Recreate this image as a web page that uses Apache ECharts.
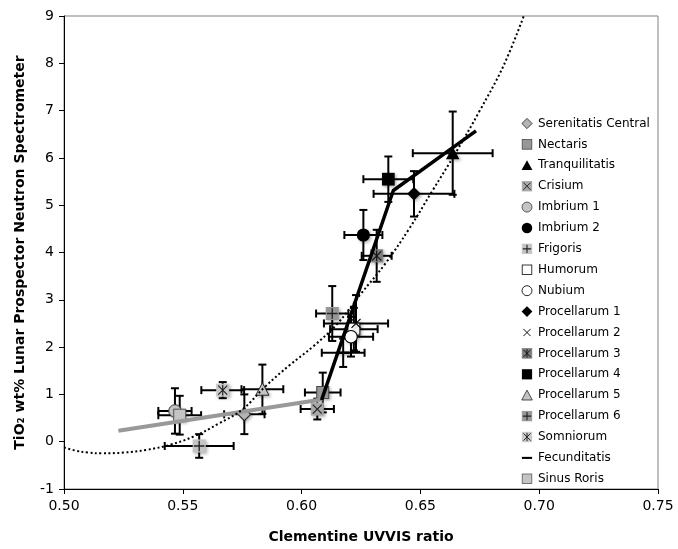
<!DOCTYPE html>
<html>
<head>
<meta charset="utf-8">
<script src="https://cdn.jsdelivr.net/npm/echarts@6/dist/echarts.min.js"></script>
<style>
  html, body { margin: 0; padding: 0; background: #fff; }
  #chart { width: 678px; height: 549px; }
</style>
</head>
<body>
<div id="chart"></div>
<script>
// Mare regions: Clementine UVVIS ratio vs. Lunar Prospector TiO2 (wt%)
const regions = [
  'Serenitatis Central', 'Nectaris', 'Tranquilitatis', 'Crisium', 'Imbrium 1',
  'Imbrium 2', 'Frigoris', 'Humorum', 'Nubium', 'Procellarum 1', 'Procellarum 2',
  'Procellarum 3', 'Procellarum 4', 'Procellarum 5', 'Procellarum 6', 'Somniorum',
  'Fecunditatis', 'Sinus Roris'
];
const uvvisRatio = [0.5759, 0.6089, 0.6636, 0.6066, 0.5467, 0.6260, 0.5569, 0.6220, 0.6208,
  0.6473, 0.6229, 0.6316, 0.6365, 0.5835, 0.6129, 0.5668, 0.6175, 0.5487];
const tio2 = [0.58, 1.04, 6.10, 0.69, 0.65, 4.37, -0.09, 2.38, 2.22,
  5.24, 2.50, 3.93, 5.55, 1.11, 2.71, 1.09, 1.88, 0.56];
const uvvisErr = [0.0085, 0.0075, 0.0168, 0.0070, 0.0070, 0.0080, 0.0145, 0.0100, 0.0093,
  0.0170, 0.0135, 0.0063, 0.0105, 0.0088, 0.0068, 0.0090, 0.0090, 0.0090];
const tio2Err = [0.42, 0.42, 0.88, 0.22, 0.48, 0.53, 0.25, 0.45, 0.42,
  0.48, 0.60, 0.55, 0.48, 0.52, 0.58, 0.17, 0.30, 0.41];

// Linear fit through the low-Ti maria
const lowTiFitX = [0.5229, 0.6091];
const lowTiFitY = [0.233, 0.896];
// Segmented fit through the high-Ti maria
const highTiFitX = [0.6084, 0.6386, 0.6734];
const highTiFitY = [0.88, 5.31, 6.57];
// Polynomial trend (dotted)
const trendX = [0.500, 0.505, 0.510, 0.516, 0.525, 0.535, 0.545, 0.555, 0.565, 0.575, 0.585,
  0.595, 0.605, 0.615, 0.625, 0.635, 0.645, 0.655, 0.665, 0.675, 0.685, 0.6935];
const trendY = [-0.12, -0.19, -0.23, -0.245, -0.23, -0.17, -0.06, 0.12, 0.38, 0.68, 1.18,
  1.62, 2.02, 2.49, 3.13, 3.75, 4.48, 5.30, 6.12, 7.00, 7.95, 9.0];

const xTicks = ['0.50', '0.55', '0.60', '0.65', '0.70', '0.75'];

// Marker drawings (20x20 SVG)
const LIGHT = '#c4c4c4', MID = '#979797', DARK = '#7d7d7d';
function svgIcon(body) {
  const s = '<svg xmlns="http://www.w3.org/2000/svg" width="40" height="40" viewBox="0 0 20 20">' + body + '</svg>';
  return 'image://data:image/svg+xml;charset=utf-8,' + encodeURIComponent(s);
}
const sq = (fill, stroke) => `<rect x="2" y="2" width="16" height="16" fill="${fill}" stroke="${stroke}" stroke-width="1.3"/>`;
const xMark = (c) => `<path d="M4 4L16 16M16 4L4 16" stroke="${c}" stroke-width="1.6"/>`;
const plusMark = (c) => `<path d="M10 3V17M3 10H17" stroke="${c}" stroke-width="1.8"/>`;
const vMark = (c) => `<path d="M10 3V17" stroke="${c}" stroke-width="1.6"/>`;

const markerSvg = [
  svgIcon(`<polygon points="10,1.5 18.5,10 10,18.5 1.5,10" fill="#b4b4b4" stroke="#222" stroke-width="1.4"/>`),
  svgIcon(sq(MID, '#444')),
  svgIcon(`<polygon points="10,1.5 19,18 1,18" fill="#000"/>`),
  svgIcon(sq('#a8a8a8', '#a8a8a8') + xMark('#222')),
  svgIcon(`<circle cx="10" cy="10" r="8.3" fill="${LIGHT}" stroke="#333" stroke-width="1.3"/>`),
  svgIcon(`<circle cx="10" cy="10" r="8.8" fill="#000"/>`),
  svgIcon(sq(LIGHT, LIGHT) + plusMark('#222')),
  svgIcon(sq('#fff', '#000')),
  svgIcon(`<circle cx="10" cy="10" r="8.3" fill="#fff" stroke="#000" stroke-width="1.4"/>`),
  svgIcon(`<polygon points="10,1 19,10 10,19 1,10" fill="#000"/>`),
  svgIcon(xMark('#000')),
  svgIcon(sq(DARK, DARK) + xMark('#111') + vMark('#111')),
  svgIcon(`<rect x="1.5" y="1.5" width="17" height="17" fill="#000"/>`),
  svgIcon(`<polygon points="10,1.5 18.8,18 1.2,18" fill="${LIGHT}" stroke="#222" stroke-width="1.3"/>`),
  svgIcon(sq(MID, MID) + plusMark('#222')),
  svgIcon(sq('#c8c8c8', '#c8c8c8') + xMark('#222') + vMark('#222')),
  svgIcon(`<rect x="1.5" y="8.3" width="17" height="3.4" fill="#000"/>`),
  svgIcon(sq(LIGHT, '#555'))
];

const FONT = 'DejaVu Sans, Verdana, sans-serif';

const chart = echarts.init(document.getElementById('chart'), null, { renderer: 'canvas' });

const errorBarData = regions.map((_, i) => [uvvisRatio[i], tio2[i], uvvisErr[i], tio2Err[i]]);

function renderErrorBar(params, api) {
  const x = api.value(0), y = api.value(1), ex = api.value(2), ey = api.value(3);
  const l = api.coord([x - ex, y]), r = api.coord([x + ex, y]);
  const t = api.coord([x, y + ey]), b = api.coord([x, y - ey]);
  const cap = 4;
  const style = { stroke: '#000', lineWidth: 2, fill: null };
  const seg = (x1, y1, x2, y2) => ({ type: 'line', shape: { x1, y1, x2, y2 }, style });
  return {
    type: 'group',
    children: [
      seg(l[0], l[1], r[0], r[1]),
      seg(t[0], t[1], b[0], b[1]),
      seg(l[0], l[1] - cap, l[0], l[1] + cap),
      seg(r[0], r[1] - cap, r[0], r[1] + cap),
      seg(t[0] - cap, t[1], t[0] + cap, t[1]),
      seg(b[0] - cap, b[1], b[0] + cap, b[1])
    ]
  };
}

const series = [
  {
    name: 'error bars',
    type: 'custom',
    renderItem: renderErrorBar,
    data: errorBarData,
    encode: { x: 0, y: 1 },
    z: 2,
    silent: true
  }
];

regions.forEach((name, i) => {
  series.push({
    name,
    type: 'scatter',
    data: [[uvvisRatio[i], tio2[i]]],
    symbol: markerSvg[i],
    symbolSize: 15,
    z: 3,
    itemStyle: {
      opacity: 1,
      shadowBlur: 3, shadowOffsetX: 1.5, shadowOffsetY: 1.5, shadowColor: 'rgba(0,0,0,0.3)'
    }
  });
});

series.push({
  name: 'low-Ti fit',
  type: 'line',
  data: lowTiFitX.map((x, i) => [x, lowTiFitY[i]]),
  showSymbol: false,
  lineStyle: { color: '#999', width: 4, cap: 'butt' },
  z: 4,
  silent: true
});
series.push({
  name: 'high-Ti fit',
  type: 'line',
  data: highTiFitX.map((x, i) => [x, highTiFitY[i]]),
  showSymbol: false,
  lineStyle: { color: '#000', width: 3.5, join: 'round' },
  z: 5,
  silent: true
});
series.push({
  name: 'trend',
  type: 'line',
  data: trendX.map((x, i) => [x, trendY[i]]),
  showSymbol: false,
  smooth: 0.4,
  lineStyle: { color: '#000', width: 2, type: [2, 2.5] },
  z: 4,
  silent: true
});

const option = {
  animation: false,
  backgroundColor: '#fff',
  grid: {
    left: 64, top: 16, width: 594, height: 473,
    show: true, borderColor: '#808080', borderWidth: 1, backgroundColor: '#fff'
  },
  legend: {
    orient: 'vertical',
    left: 516,
    top: 112,
    itemWidth: 12,
    itemHeight: 12,
    itemGap: 7.9,
    selectedMode: false,
    data: regions.map((name, i) => ({ name, icon: markerSvg[i] })),
    textStyle: { fontFamily: FONT, fontSize: 12, color: '#000', lineHeight: 13 }
  },
  xAxis: {
    type: 'value',
    min: 0.5, max: 0.75, interval: 0.05,
    name: 'Clementine UVVIS ratio',
    nameLocation: 'middle',
    nameGap: 41,
    nameTextStyle: { fontFamily: FONT, fontSize: 14, fontWeight: 'bold', color: '#000' },
    axisLine: { show: true, onZero: false, lineStyle: { color: '#000', width: 1 } },
    axisTick: { show: true, inside: false, length: 5, lineStyle: { color: '#000' } },
    axisLabel: {
      fontFamily: FONT, fontSize: 14, color: '#000', margin: 10,
      formatter: (v) => xTicks[Math.round((v - 0.5) / 0.05)]
    },
    splitLine: { show: false }
  },
  yAxis: {
    type: 'value',
    min: -1, max: 9, interval: 1,
    name: 'TiO\u2082 wt% Lunar Prospector Neutron Spectrometer',
    nameLocation: 'middle',
    nameGap: 37,
    nameTextStyle: { fontFamily: FONT, fontSize: 14, fontWeight: 'bold', color: '#000' },
    axisLine: { show: true, onZero: false, lineStyle: { color: '#000', width: 1 } },
    axisTick: { show: true, inside: false, length: 5, lineStyle: { color: '#000' } },
    axisLabel: { fontFamily: FONT, fontSize: 14, color: '#000', margin: 10 },
    splitLine: { show: false }
  },
  series
};

chart.setOption(option);
</script>
</body>
</html>
